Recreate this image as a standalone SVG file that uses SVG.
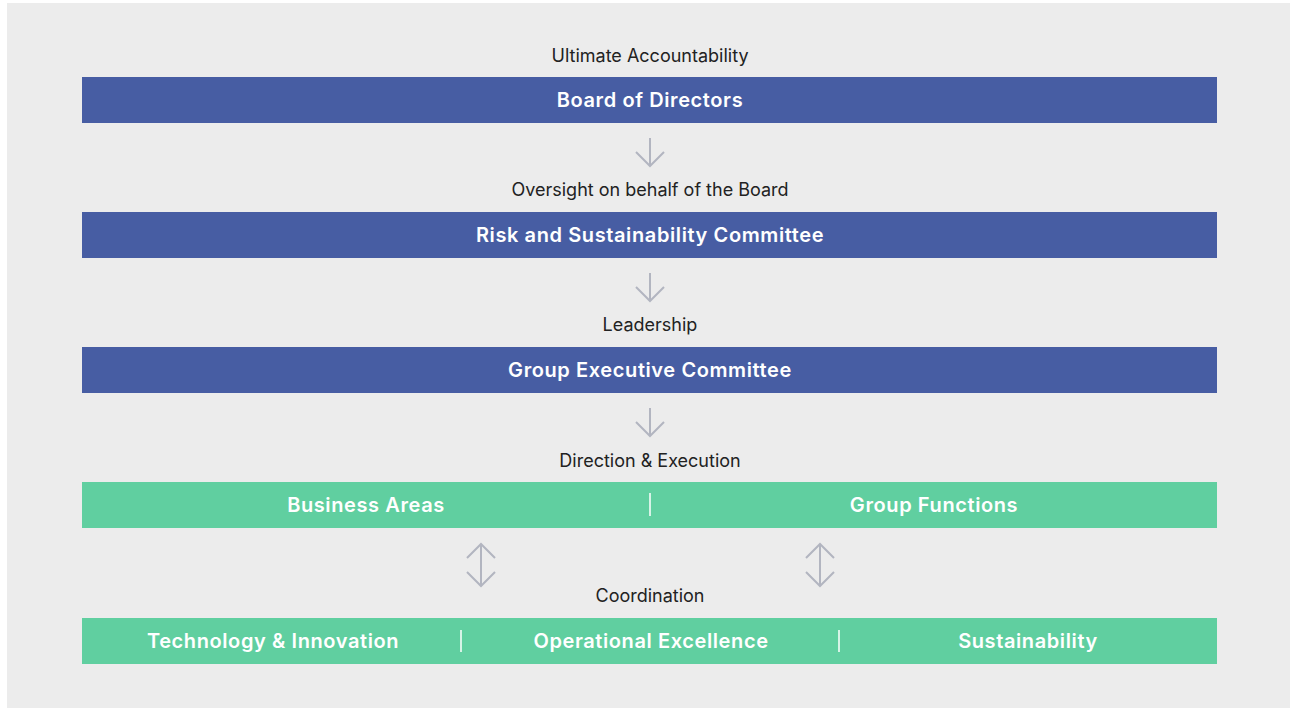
<svg xmlns="http://www.w3.org/2000/svg" width="1290" height="710" viewBox="0 0 1290 710">
<style>
.bg{fill:#ececec}
.blue{fill:#475da3}
.green{fill:#60cfa0}
.t{font-family:Inter,"Liberation Sans",sans-serif;font-size:20px;font-weight:600;letter-spacing:0.6px;fill:#fff;text-anchor:middle}
.l{font-family:Inter,"Liberation Sans",sans-serif;font-size:18px;fill:#222;text-anchor:middle}
.arr{fill:none;stroke:#b2b5c0;stroke-width:2}
.div{stroke:#fff;stroke-width:1.5}
</style>
<rect class="bg" x="7" y="3" width="1283" height="705"/>
<g id="labels">
<text class="l" x="650" y="62">Ultimate Accountability</text>
<text class="l" x="650" y="196">Oversight on behalf of the Board</text>
<text class="l" x="650" y="331">Leadership</text>
<text class="l" x="650" y="467">Direction &amp; Execution</text>
<text class="l" x="650" y="602">Coordination</text>
</g>
<g id="board"><rect class="blue" x="82" y="77" width="1135" height="46"/><text class="t" x="650" y="107">Board of Directors</text></g>
<g id="risk"><rect class="blue" x="82" y="212" width="1135" height="46"/><text class="t" x="650" y="242">Risk and Sustainability Committee</text></g>
<g id="gec"><rect class="blue" x="82" y="347" width="1135" height="46"/><text class="t" x="650" y="377">Group Executive Committee</text></g>
<g id="row1"><rect class="green" x="82" y="482" width="1135" height="46"/>
<line class="div" x1="650" y1="493" x2="650" y2="516"/>
<text class="t" x="366" y="512">Business Areas</text>
<text class="t" x="934" y="512">Group Functions</text></g>
<g id="row2"><rect class="green" x="82" y="618" width="1135" height="46"/>
<line class="div" x1="461" y1="630" x2="461" y2="652"/>
<line class="div" x1="839" y1="630" x2="839" y2="652"/>
<text class="t" x="273" y="648">Technology &amp; Innovation</text>
<text class="t" x="651" y="648">Operational Excellence</text>
<text class="t" x="1028" y="648">Sustainability</text></g>
<g id="connectors">
<path class="arr" d="M650 138V166M636 152L650 166L664 152"/>
<path class="arr" d="M650 273V301M636 287L650 301L664 287"/>
<path class="arr" d="M650 408V436M636 422L650 436L664 422"/>
<path class="arr" d="M481 544V586M467 558L481 544L495 558M467 572L481 586L495 572"/>
<path class="arr" d="M820 544V586M806 558L820 544L834 558M806 572L820 586L834 572"/>
</g>
</svg>
